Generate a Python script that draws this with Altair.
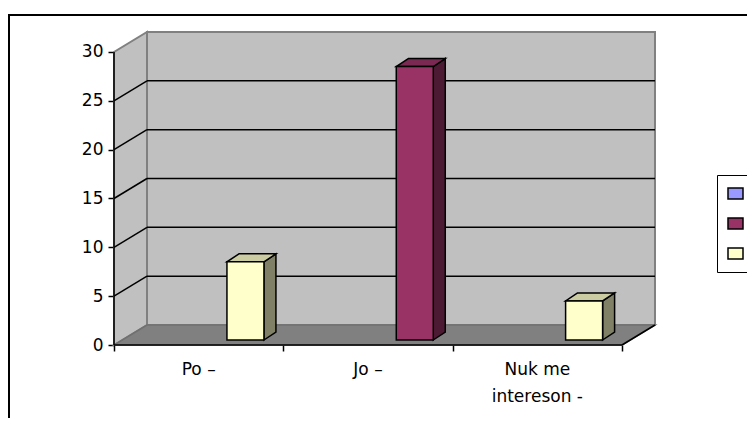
import altair as alt
import pandas as pd

# ---- data ----
categories = ["Po –", "Jo –", "Nuk me\nintereson -"]
values = [8, 28, 4]
bar_series = ["3", "2", "3"]
legend_series = ["1", "2", "3"]
y_ticks = [0, 5, 10, 15, 20, 25, 30]

# ---- styles ----
front_colors = ["#9999FF", "#993366", "#FFFFCC"]
side_colors = ["#4C4C80", "#4D1A33", "#808066"]
top_colors = ["#7A7ACC", "#7A2952", "#CCCCA3"]
FONT = "DejaVu Sans"

# ---- geometry (pixel sizes converted to data units) ----
PX_X = 169.33   # px per category
PX_Y = 9.767    # px per value unit
W, H = 550, 313
XMAX = W / PX_X
YMAX = H / PX_Y
NCAT = len(categories)
VMAX = max(y_ticks)
DXW, DYW = 33 / PX_X, 20 / PX_Y          # wall depth
DXF, DYF = 8 / PX_X, 5 / PX_Y            # bar front depth
BAR_OFF = 0.667 - DXF
BAR_W = 37 / PX_X
BDX, BDY = 12 / PX_X, 8 / PX_Y           # bar depth

xs = alt.Scale(domain=[0, XMAX], nice=False, zero=False)
ys = alt.Scale(domain=[0, YMAX], nice=False, zero=False)

# bars
rows = []
side_rows, top_rows = [], []
for i, (c, v, s) in enumerate(zip(categories, values, bar_series)):
    xl = i + BAR_OFF + DXF
    xr = xl + BAR_W
    base = DYF
    top = v + DYF
    rows.append(dict(cat=c, value=v, series=s, xl=xl, xr=xr, base=base, top=top))
    side_rows += [dict(id=i, series=s, x=xr, y=base, y2=top),
                  dict(id=i, series=s, x=xr + BDX, y=base + BDY, y2=top + BDY)]
    top_rows += [dict(id=i, series=s, y=top, x=xl, x2=xr),
                 dict(id=i, series=s, y=top + BDY, x=xl + BDX, x2=xr + BDX)]
bars = pd.DataFrame(rows)
sides = pd.DataFrame(side_rows)
tops = pd.DataFrame(top_rows)

wall_df = pd.DataFrame([dict(x=DXW, x2=NCAT + DXW, y=DYW, y2=VMAX + DYW)])
left_df = pd.DataFrame([dict(x=0, y=0, y2=VMAX), dict(x=DXW, y=DYW, y2=VMAX + DYW)])
floor_df = pd.DataFrame([dict(y=0, x=0, x2=NCAT), dict(y=DYW, x=DXW, x2=NCAT + DXW)])
grid_vals = [t for t in y_ticks if 0 < t < VMAX]
grid_back = pd.DataFrame([dict(x=DXW, x2=NCAT + DXW, y=t + DYW) for t in grid_vals])
grid_side = pd.DataFrame([dict(x=0, x2=DXW, y=t, y2=t + DYW) for t in grid_vals])
axis_lines = pd.DataFrame([
    dict(x=0, x2=0, y=0, y2=VMAX),
    dict(x=0, x2=NCAT, y=0, y2=0),
    dict(x=NCAT, x2=NCAT + DXW, y=0, y2=DYW),
])
labels_df = pd.DataFrame(dict(cat=categories, pos=[i + 0.5 for i in range(NCAT)], y=[0] * NCAT))

wall = alt.Chart(wall_df).mark_rect(fill="#C0C0C0", stroke="#808080", strokeWidth=2).encode(
    x=alt.X("x:Q", scale=xs,
            axis=alt.Axis(values=list(range(NCAT + 1)), labels=False, domain=False, grid=False,
                          ticks=True, tickSize=6, tickColor="black", tickWidth=1.5, title=None)),
    x2="x2:Q",
    y=alt.Y("y:Q", scale=ys,
            axis=alt.Axis(values=y_ticks, domain=False, grid=False, tickSize=6, tickColor="black",
                          tickWidth=1.5, labelFont=FONT, labelFontSize=17, labelColor="black",
                          labelPadding=5, title=None)),
    y2="y2:Q",
)
left_wall = alt.Chart(left_df).mark_area(fill="#C0C0C0", stroke="#808080", strokeWidth=2).encode(
    x=alt.X("x:Q", scale=xs), y=alt.Y("y:Q", scale=ys), y2="y2:Q")
floor = alt.Chart(floor_df).mark_area(orient="horizontal", fill="#808080", stroke="#707070",
                                      strokeWidth=1.5).encode(
    y=alt.Y("y:Q", scale=ys), x=alt.X("x:Q", scale=xs), x2="x2:Q")
gb = alt.Chart(grid_back).mark_rule(color="black", strokeWidth=1.5).encode(
    x=alt.X("x:Q", scale=xs), x2="x2:Q", y=alt.Y("y:Q", scale=ys))
gs = alt.Chart(grid_side).mark_rule(color="black", strokeWidth=1.5).encode(
    x=alt.X("x:Q", scale=xs), x2="x2:Q", y=alt.Y("y:Q", scale=ys), y2="y2:Q")
ax = alt.Chart(axis_lines).mark_rule(color="black", strokeWidth=1.5).encode(
    x=alt.X("x:Q", scale=xs), x2="x2:Q", y=alt.Y("y:Q", scale=ys), y2="y2:Q")

side_faces = alt.Chart(sides).mark_area(stroke="black", strokeWidth=1.5).encode(
    x=alt.X("x:Q", scale=xs), y=alt.Y("y:Q", scale=ys), y2="y2:Q", detail="id:N",
    fill=alt.Fill("series:N", scale=alt.Scale(domain=legend_series, range=side_colors), legend=None))
top_faces = alt.Chart(tops).mark_area(orient="horizontal", stroke="black", strokeWidth=1.5).encode(
    y=alt.Y("y:Q", scale=ys), x=alt.X("x:Q", scale=xs), x2="x2:Q", detail="id:N",
    fill=alt.Fill("series:N", scale=alt.Scale(domain=legend_series, range=top_colors), legend=None))
front = alt.Chart(bars).mark_rect(stroke="black", strokeWidth=1.5).encode(
    x=alt.X("xl:Q", scale=xs), x2="xr:Q", y=alt.Y("base:Q", scale=ys), y2="top:Q",
    fill=alt.Fill("series:N", scale=alt.Scale(domain=legend_series, range=front_colors),
                  legend=alt.Legend(orient="none", legendX=603, legendY=143, title=None,
                                    symbolType="M-1,-0.733H1V0.733H-1Z", symbolSize=225,
                                    symbolStrokeColor="black", symbolStrokeWidth=1.5,
                                    labelExpr="'                        '", labelFontSize=10,
                                    strokeColor="black", fillColor="white", padding=10,
                                    rowPadding=13)),
    tooltip=["cat:N", "value:Q"],
)
labels = alt.Chart(labels_df).mark_text(font=FONT, fontSize=17, color="black", baseline="top",
                                        align="center", dy=17, lineBreak="\n", lineHeight=27).encode(
    x=alt.X("pos:Q", scale=xs), y=alt.Y("y:Q", scale=ys), text="cat:N")

border_l = alt.Chart(labels_df).mark_rule(color="black", strokeWidth=2).encode(
    x=alt.value(-105), y=alt.value(-18), y2=alt.value(500))
border_t = alt.Chart(labels_df).mark_rule(color="black", strokeWidth=2).encode(
    x=alt.value(-106), x2=alt.value(800), y=alt.value(-17))

chart = alt.layer(
    wall, left_wall, floor, gb, gs, ax, side_faces, top_faces, front, labels, border_l, border_t
).resolve_scale(fill="independent").properties(
    width=W, height=H,
    autosize=alt.AutoSizeParams(type="none"),
    padding={"left": 106, "top": 24, "right": 83, "bottom": 73},
).configure_view(stroke=None)

chart.save("out.html", embed_options={"renderer": "svg", "actions": False})
